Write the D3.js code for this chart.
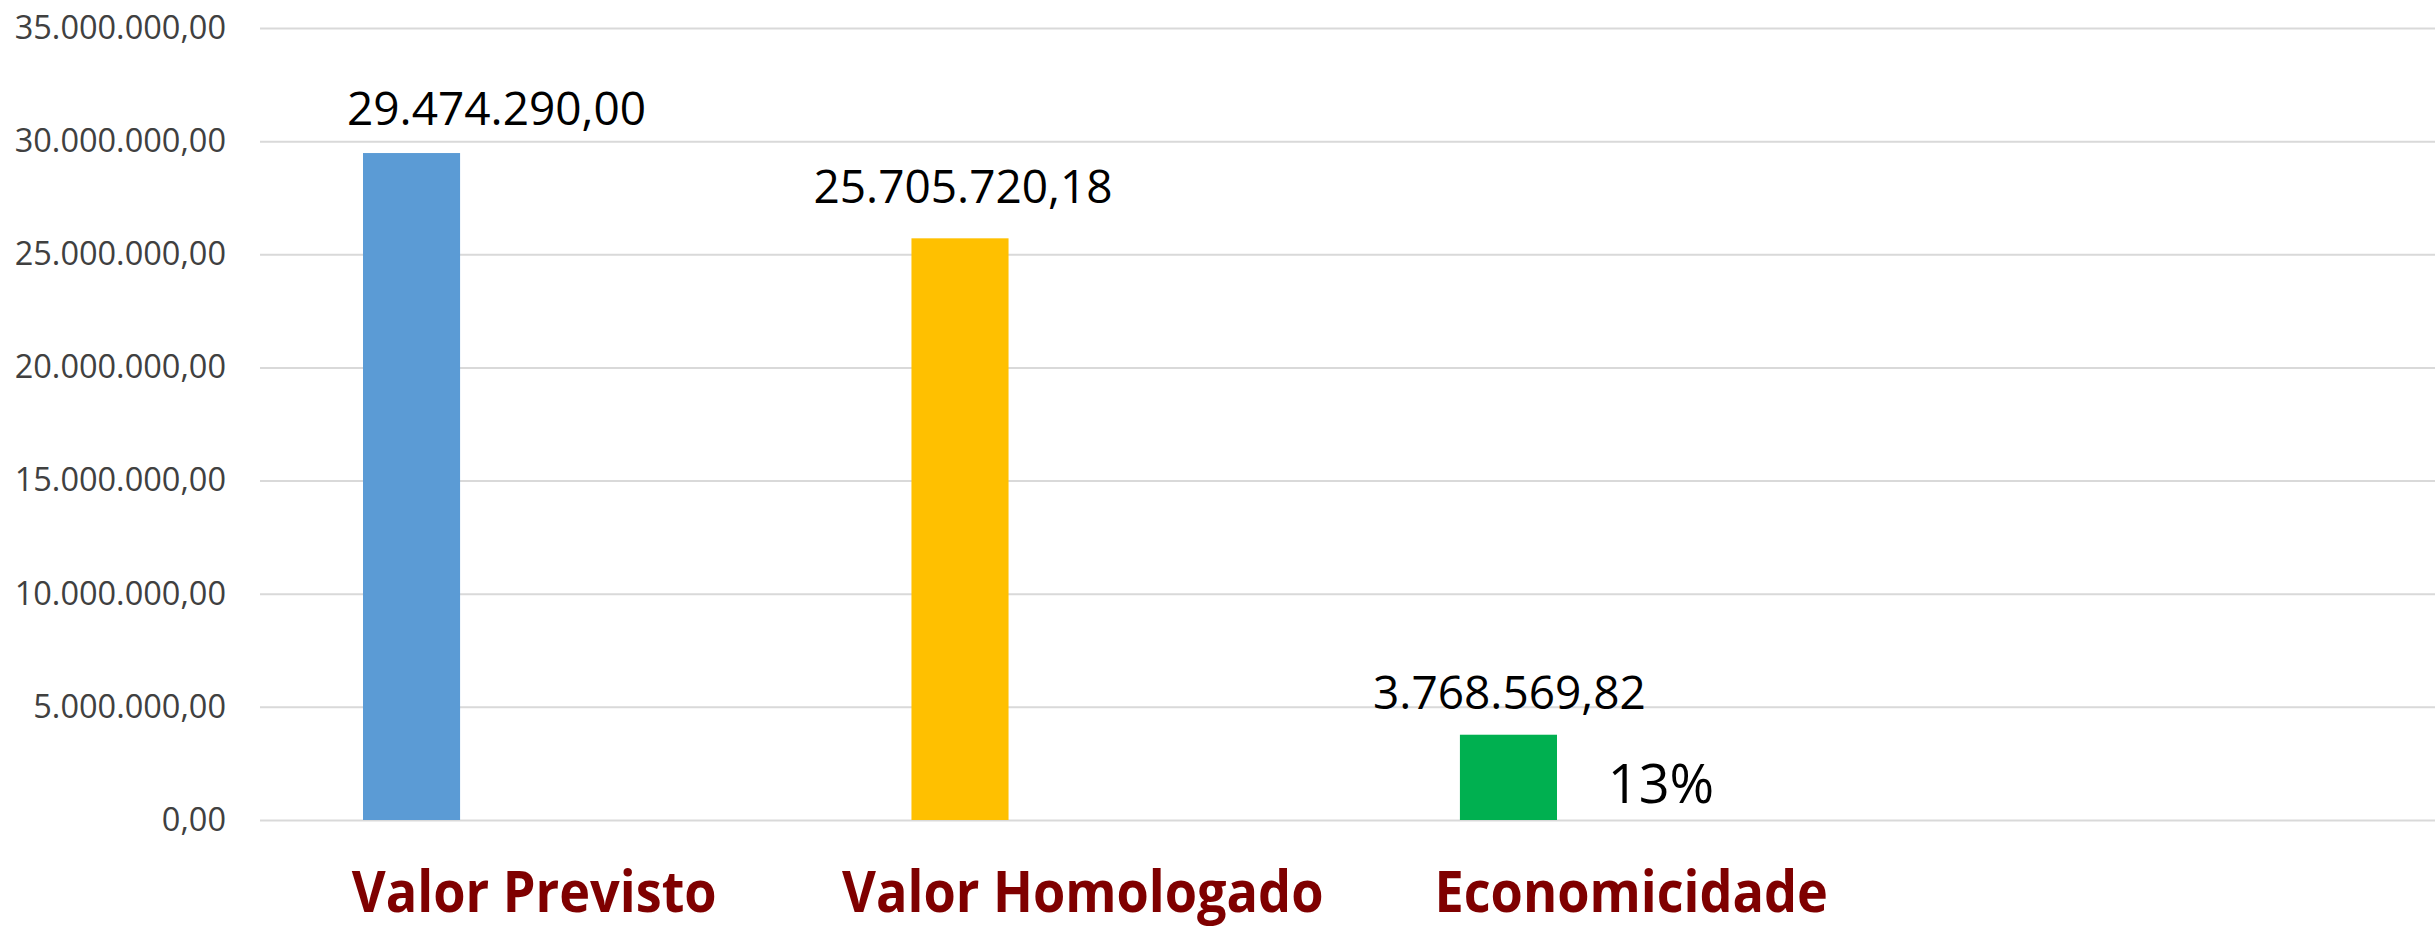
<!DOCTYPE html>
<html>
<head>
<meta charset="utf-8">
<style>
  html, body { margin: 0; padding: 0; background: #fff; overflow: hidden; }
</style>
</head>
<body></body>

<script src='https://d3js.org/d3.v7.min.js'></script>
<script>
    const categories = ["Valor Previsto", "Valor Homologado", "Economicidade"]
    const values = [29474290.00, 25705720.18, 3768569.82]
    const barColors = ["#5B9BD5", "#FFC000", "#00B050"]
    const yTicks = [0, 5000000, 10000000, 15000000, 20000000, 25000000, 30000000, 35000000]
    const percentLabel = "13%"

    const width = 2435;
    const height = 930;
    const plotLeft = 260;
    const plotRight = 2435;
    const plotTop = 28;
    const plotBottom = 820;

    // pt-BR number format: 29.474.290,00
    const ptBR = d3.formatLocale({ decimal: ",", thousands: ".", grouping: [3], currency: ["R$", ""] });
    const fmt = ptBR.format(",.2f");

    var y_scale = d3.scaleLinear()
        .domain([0, 35000000])
        .range([plotBottom, plotTop]);

    // bars are narrow and sit inside wide category slots
    var x_scale = d3.scaleBand()
        .domain(categories)
        .range([363, 1557])
        .paddingInner(0.823)
        .paddingOuter(0);

    // category labels are centred on the full slot (4 slots, last one empty)
    var x_slot = d3.scaleBand()
        .domain(categories.concat([" "]))
        .range([plotLeft, plotLeft + 4 * 548.5]);

    var svg = d3.select("body")
        .append("svg")
        .attr("width", width)
        .attr("height", height);

    // gridlines + y tick labels
    var y_axis_left = d3.axisLeft(y_scale)
        .tickValues(yTicks)
        .tickSize(-(plotRight - plotLeft))
        .tickPadding(34)
        .tickFormat(fmt);

    var gy = svg.append("g")
        .attr("transform", "translate(" + plotLeft + ",0)")
        .call(y_axis_left);
    gy.select(".domain").remove();
    gy.selectAll(".tick line")
        .attr("stroke", "#d9d9d9")
        .attr("stroke-width", 2);
    gy.selectAll(".tick text")
        .attr("fill", "#404040")
        .style("font-family", "'Open Sans', sans-serif")
        .style("font-size", "32.5px");

    // bars
    svg.selectAll("rect.bar")
        .data(values)
        .enter()
        .append("rect")
        .attr("class", "bar")
        .attr("x", function (d, i) { return x_scale(categories[i]); })
        .attr("y", function (d) { return y_scale(d); })
        .attr("width", x_scale.bandwidth())
        .attr("height", function (d) { return y_scale(0) - y_scale(d); })
        .attr("fill", function (d, i) { return barColors[i]; });

    // value labels (first one was dragged to the right in the original)
    const labelNudge = [[85, -28], [3, -35], [1, -26]];
    svg.selectAll("text.val")
        .data(values)
        .enter()
        .append("text")
        .attr("class", "val")
        .attr("x", function (d, i) { return x_scale(categories[i]) + x_scale.bandwidth() / 2 + labelNudge[i][0]; })
        .attr("y", function (d, i) { return y_scale(d) + labelNudge[i][1]; })
        .style("text-anchor", "middle")
        .style("font-family", "'Open Sans', sans-serif")
        .style("font-size", "46px")
        .attr("fill", "#000")
        .text(function (d) { return fmt(d); });

    // percentage next to the economicidade bar
    svg.append("text")
        .attr("x", x_scale(categories[2]) + x_scale.bandwidth() + 104)
        .attr("y", 803)
        .style("text-anchor", "middle")
        .style("font-family", "'Open Sans', sans-serif")
        .style("font-size", "54px")
        .attr("fill", "#000")
        .text(percentLabel);

    // category labels
    var cat = svg.selectAll("text.cat")
        .data(categories)
        .enter()
        .append("text")
        .attr("class", "cat")
        .attr("x", function (d) { return x_slot(d) + x_slot.bandwidth() / 2; })
        .attr("y", 912)
        .style("text-anchor", "middle")
        .style("font-family", "'Open Sans', sans-serif")
        .style("font-weight", "bold")
        .style("font-size", "58px")
        .attr("fill", "#7F0000")
        .text(function (d) { return d; });
    // the original uses a narrow face, squeeze to match
    cat.each(function () {
        var w = this.getComputedTextLength();
        d3.select(this)
            .attr("textLength", w * 0.9)
            .attr("lengthAdjust", "spacingAndGlyphs");
    });
</script>
</html>
